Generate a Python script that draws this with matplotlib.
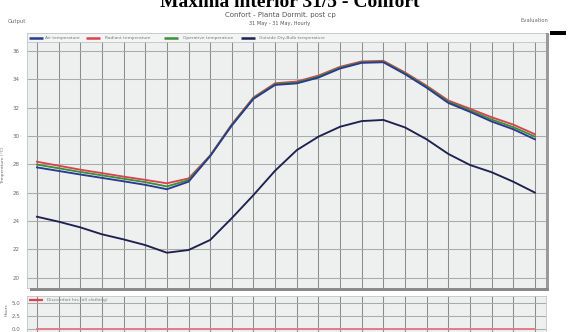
import matplotlib
matplotlib.use("Agg")
import matplotlib.pyplot as plt
from matplotlib.patches import Rectangle

W, H = 568, 332

hours = list(range(24))
radiant = [28.18, 27.9, 27.62, 27.38, 27.13, 26.9, 26.66, 27.0, 28.62, 30.82, 32.72, 33.72,
           33.84, 34.26, 34.88, 35.26, 35.3, 34.48, 33.54, 32.5, 31.92, 31.32, 30.8, 30.12]
operative = [27.98, 27.72, 27.46, 27.22, 26.98, 26.74, 26.44, 26.88, 28.6, 30.78, 32.67, 33.66,
             33.77, 34.19, 34.82, 35.2, 35.24, 34.42, 33.47, 32.41, 31.8, 31.16, 30.62, 29.95]
air = [27.78, 27.53, 27.28, 27.04, 26.8, 26.55, 26.24, 26.77, 28.58, 30.74, 32.62, 33.6,
       33.71, 34.12, 34.76, 35.16, 35.2, 34.36, 33.4, 32.33, 31.7, 31.02, 30.47, 29.76]
outside = [24.3, 23.95, 23.55, 23.06, 22.7, 22.3, 21.76, 21.95, 22.66, 24.2, 25.83, 27.55,
           29.0, 29.95, 30.65, 31.05, 31.13, 30.6, 29.76, 28.73, 27.95, 27.44, 26.77, 26.0]
discomfort = [0, 0, 0, 0, 0, 0, 0, 0, 0, 0, 0, 0, 0, 0, 0, 0, 0, 0, 0, 0, 0, 0, 0, 0]

temp_ticks = [20, 22, 24, 26, 28, 30, 32, 34, 36]
hour_ticks = [0.0, 2.5, 5.0]

series = [
    ("Air temperature", air, "#2b3a8f"),
    ("Radiant temperature", radiant, "#d9434e"),
    ("Operative temperature", operative, "#3c8f3c"),
    ("Outside Dry-Bulb temperature", outside, "#1e2150"),
]
legend_x = [(29, 45), (86, 105), (164, 183), (241, 259)]

BG = "#eef0ef"
VGRID = "#8c8c8c"
HGRID = "#ababab"
TXT = "#6a6a6a"


def rect(l, t, r, b):
    return [l / W, 1 - b / H, (r - l) / W, (b - t) / H]


fig = plt.figure(figsize=(W / 100, H / 100), dpi=100)
fig.patch.set_facecolor("white")

# header texts
fig.text(290 / W, 1 - 7 / H, "Máxima interior 31/5 - Confort", ha="center", va="baseline",
         fontsize=14, fontweight="bold", family="Liberation Serif", color="black")
fig.text(280 / W, 1 - 15 / H, "Confort - Planta Dormit. post cp", ha="center", va="center",
         fontsize=5, color="#555555")
fig.text(280 / W, 1 - 23.5 / H, "31 May - 31 May, Hourly", ha="center", va="center",
         fontsize=3.6, color="#555555")
fig.text(8 / W, 1 - 21 / H, "Output", ha="left", va="center", fontsize=3.8, color=TXT)
fig.text(548 / W, 1 - 21 / H, "Evaluation", ha="right", va="center", fontsize=3.8, color=TXT)

# black marker bar at the right edge
fig.add_artist(Rectangle((550 / W, 1 - 35 / H), 16 / W, 4 / H, transform=fig.transFigure,
                         facecolor="black", edgecolor="none"))

# legend strip above the main plot
lg = fig.add_axes(rect(27, 33, 546, 42))
lg.set_facecolor("#f3f4f4")
lg.set_xlim(27, 546)
lg.set_ylim(0, 1)
lg.set_xticks([])
lg.set_yticks([])
for s in lg.spines.values():
    s.set_color("#c4c4c4")
    s.set_linewidth(0.6)
for (label, _, color), (sx, tx) in zip(series, legend_x):
    lg.plot([sx, sx + 14], [0.5, 0.5], color=color, lw=1.8, solid_capstyle="butt")
    lg.text(tx, 0.5, label, ha="left", va="center", fontsize=3.2, color="#7a7a7a")

# main temperature plot
ax = fig.add_axes(rect(27, 42, 546, 288))
ax.set_facecolor(BG)
ax.set_xlim(-0.46, 23.51)
ax.set_ylim(19.27, 36.63)
ax.set_xticks(hours)
ax.set_yticks(temp_ticks)
ax.set_xticklabels([])
ax.set_yticklabels([str(t) for t in temp_ticks], fontsize=4, color=TXT)
ax.tick_params(length=0, pad=5)
ax.grid(axis="x", color=VGRID, lw=0.75)
ax.grid(axis="y", color=HGRID, lw=0.75)
ax.set_axisbelow(True)
for s in ax.spines.values():
    s.set_color("#c4c4c4")
    s.set_linewidth(0.6)
ax.set_ylabel("Temperature (°C)", fontsize=3.2, color=TXT, labelpad=6)

ax.plot(hours, radiant, color=series[1][2], lw=1.35, zorder=3)
ax.plot(hours, operative, color=series[2][2], lw=1.35, zorder=4)
ax.plot(hours, air, color=series[0][2], lw=1.35, zorder=5)
ax.plot(hours, outside, color=series[3][2], lw=1.35, zorder=5)

# shadow edges of the plot frame
fig.add_artist(Rectangle((546 / W, 1 - 290 / H), 3 / W, 257 / H, transform=fig.transFigure,
                         facecolor="#9a9a9a", edgecolor="none"))
fig.add_artist(Rectangle((30 / W, 1 - 291 / H), 519 / W, 3 / H, transform=fig.transFigure,
                         facecolor="#8a8a8a", edgecolor="none"))

# discomfort hours panel
bx = fig.add_axes(rect(27, 296, 546, 345))
bx.set_facecolor(BG)
bx.set_xlim(-0.46, 23.51)
bx.set_ylim(-3.08, 6.35)
bx.set_xticks(hours)
bx.set_yticks(hour_ticks)
bx.set_xticklabels([])
bx.set_yticklabels([f"{v:.1f}" for v in hour_ticks], fontsize=4, color=TXT)
bx.tick_params(length=0, pad=5)
bx.grid(axis="x", color=VGRID, lw=0.75)
bx.grid(axis="y", color=HGRID, lw=0.75)
bx.set_axisbelow(True)
for s in bx.spines.values():
    s.set_color("#c4c4c4")
    s.set_linewidth(0.6)
bx.plot(hours, discomfort, color="#e07a86", lw=1.35, zorder=3)
bx.set_ylabel("Hours", fontsize=3.2, color=TXT, labelpad=4)
bx.yaxis.set_label_coords(-0.035, 0.72)
bx.plot([-0.46 + 2 / 21.65, -0.46 + 16 / 21.65], [5.55, 5.55],
        color="#d9434e", lw=1.6, solid_capstyle="butt", zorder=4)
bx.text(-0.46 + 20 / 21.65, 5.55, "Discomfort hrs (all clothing)", ha="left", va="center",
        fontsize=3.2, color="#7a7a7a", zorder=4)

fig.savefig("out.png", dpi=100, facecolor="white")
